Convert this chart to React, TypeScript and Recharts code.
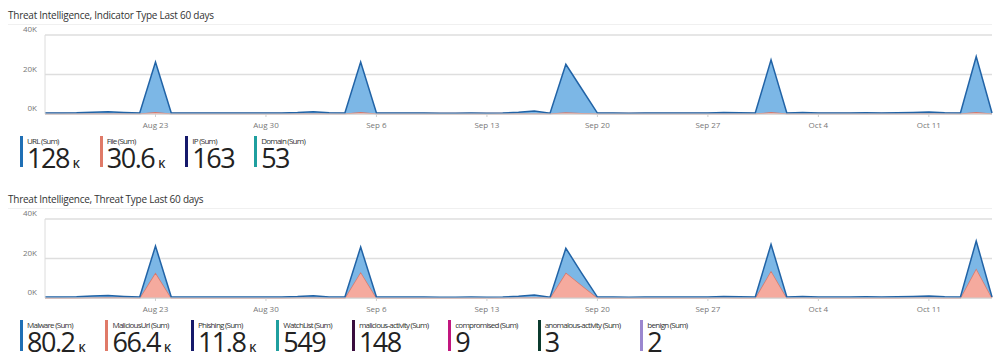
import { AreaChart, Area, XAxis, YAxis, CartesianGrid } from "recharts";

// one point per day, Aug 16 -> Oct 15
const days = [
  "Aug 16", "Aug 17", "Aug 18", "Aug 19", "Aug 20", "Aug 21", "Aug 22", "Aug 23", "Aug 24", "Aug 25",
  "Aug 26", "Aug 27", "Aug 28", "Aug 29", "Aug 30", "Aug 31", "Sep 1", "Sep 2", "Sep 3", "Sep 4",
  "Sep 5", "Sep 6", "Sep 7", "Sep 8", "Sep 9", "Sep 10", "Sep 11", "Sep 12", "Sep 13", "Sep 14",
  "Sep 15", "Sep 16", "Sep 17", "Sep 18", "Sep 19", "Sep 20", "Sep 21", "Sep 22", "Sep 23", "Sep 24",
  "Sep 25", "Sep 26", "Sep 27", "Sep 28", "Sep 29", "Sep 30", "Oct 1", "Oct 2", "Oct 3", "Oct 4",
  "Oct 5", "Oct 6", "Oct 7", "Oct 8", "Oct 9", "Oct 10", "Oct 11", "Oct 12", "Oct 13", "Oct 14",
  "Oct 15",
];

const xTicks = ["Aug 23", "Aug 30", "Sep 6", "Sep 13", "Sep 20", "Sep 27", "Oct 4", "Oct 11"];
const yTicks = [0, 20000, 40000];

// Indicator type chart
const urlValues = [
  300, 350, 400, 700, 1000, 600, 300, 25300, 300, 250,
  250, 300, 250, 250, 300, 350, 500, 900, 400, 300,
  25300, 300, 350, 250, 250, 200, 200, 250, 200, 300,
  700, 1300, 200, 24300, 12300, 250, 250, 200, 300, 350,
  300, 250, 250, 600, 400, 300, 26400, 300, 500, 350,
  300, 350, 400, 350, 400, 600, 800, 400, 300, 28100,
  300,
];
const fileValues = [
  200, 200, 200, 200, 200, 200, 200, 1000, 200, 200,
  200, 200, 200, 200, 200, 200, 200, 200, 200, 200,
  1000, 200, 200, 200, 200, 200, 200, 200, 200, 200,
  200, 200, 200, 900, 500, 200, 200, 200, 200, 200,
  200, 200, 200, 200, 200, 200, 1000, 200, 200, 200,
  200, 200, 200, 200, 200, 200, 200, 200, 200, 1000,
  200,
];

// Threat type chart
const maliciousUrlValues = [
  150, 150, 150, 250, 350, 200, 150, 12900, 150, 150,
  150, 150, 150, 150, 150, 150, 200, 300, 150, 150,
  13200, 150, 150, 150, 150, 150, 150, 150, 150, 150,
  250, 400, 150, 12900, 6500, 150, 150, 150, 150, 150,
  150, 150, 150, 200, 150, 150, 13800, 150, 200, 150,
  150, 150, 150, 150, 150, 200, 300, 150, 150, 15000,
  150,
];
const malwareValues = [
  350, 400, 450, 700, 900, 600, 350, 13400, 350, 300,
  300, 350, 300, 300, 350, 400, 500, 800, 400, 350,
  12600, 350, 400, 300, 300, 250, 250, 300, 250, 350,
  650, 1100, 250, 12300, 6100, 300, 300, 250, 350, 400,
  350, 300, 300, 600, 450, 350, 13400, 350, 500, 400,
  350, 400, 450, 400, 450, 600, 750, 450, 350, 13900,
  350,
];

const indicatorLegend = [
  { label: "URL (Sum)", value: "128", unit: "K", color: "#1f6fb5" },
  { label: "File (Sum)", value: "30.6", unit: "K", color: "#e07a68" },
  { label: "IP (Sum)", value: "163", unit: "", color: "#15196b" },
  { label: "Domain (Sum)", value: "53", unit: "", color: "#1f9f9f" },
];

const threatLegend = [
  { label: "Malware (Sum)", value: "80.2", unit: "K", color: "#1f6fb5" },
  { label: "MaliciousUrl (Sum)", value: "66.4", unit: "K", color: "#e07a68" },
  { label: "Phishing (Sum)", value: "11.8", unit: "K", color: "#15196b" },
  { label: "WatchList (Sum)", value: "549", unit: "", color: "#1f9f9f" },
  { label: "malicious-activity (Sum)", value: "148", unit: "", color: "#3a0d3e" },
  { label: "compromised (Sum)", value: "9", unit: "", color: "#c2177f" },
  { label: "anomalous-activity (Sum)", value: "3", unit: "", color: "#0b3b2e" },
  { label: "benign (Sum)", value: "2", unit: "", color: "#9b87cf" },
];

const indicatorData = days.map((day, i) => ({ day, file: fileValues[i], url: urlValues[i] }));
const threatData = days.map((day, i) => ({
  day,
  maliciousUrl: maliciousUrlValues[i],
  malware: malwareValues[i],
}));

const FONT = "'Segoe UI', 'Open Sans', sans-serif";
const BLUE_FILL = "#7cb7e6";
const BLUE_LINE = "#2163a6";
const RED_FILL = "#f5aa9e";
const RED_LINE = "#d9786a";

const YTick = (props: any) => {
  const { x, y, payload } = props;
  return (
    <text x={x} y={y - 3} textAnchor="end" fontSize={8} fill="#777" fontFamily={FONT}>
      {payload.value / 1000}K
    </text>
  );
};

const Legend = ({ items }: { items: typeof threatLegend }) => (
  <div style={{ display: "flex" }}>
    {items.map((it) => (
      <div key={it.label} style={{ display: "flex", marginRight: 20 }}>
        <div style={{ width: 3, height: 31, background: it.color }} />
        <div style={{ marginLeft: 4 }}>
          <div
            style={{
              fontSize: 8,
              lineHeight: "9px",
              letterSpacing: -0.75,
              color: "#333",
              whiteSpace: "nowrap",
            }}
          >
            {it.label}
          </div>
          <div
            style={{
              fontSize: 27,
              lineHeight: "24px",
              marginTop: 1,
              color: "#222",
              letterSpacing: -1.5,
              whiteSpace: "nowrap",
            }}
          >
            {it.value}
            {it.unit && (
              <span style={{ fontSize: 11, fontWeight: 600, marginLeft: 4, letterSpacing: 0 }}>
                {it.unit}
              </span>
            )}
          </div>
        </div>
      </div>
    ))}
  </div>
);

const Panel = ({
  top,
  title,
  data,
  series,
  legend,
}: {
  top: number;
  title: string;
  data: any[];
  series: { key: string; fill: string; stroke: string }[];
  legend: typeof threatLegend;
}) => (
  <div style={{ position: "absolute", left: 0, top, width: 999, height: 180 }}>
    <div
      style={{
        position: "absolute",
        left: 8,
        top: 8,
        fontSize: 10,
        letterSpacing: -0.25,
        color: "#333",
        whiteSpace: "nowrap",
      }}
    >
      {title}
    </div>
    <div style={{ position: "absolute", left: 8, top: 24, width: 984, borderTop: "1px solid #f0f0f0" }} />
    <div style={{ position: "absolute", left: 0, top: 0 }}>
      <AreaChart width={999} height={135} data={data} margin={{ top: 35, right: 7, bottom: 0, left: 0 }}>
        <CartesianGrid vertical={false} stroke="#dedede" strokeWidth={1.5} />
        <XAxis
          dataKey="day"
          ticks={xTicks}
          interval={0}
          height={21}
          tickSize={3}
          tickMargin={5}
          stroke="#cfcfcf"
          tick={{ fontSize: 8, fill: "#777", fontFamily: FONT }}
        />
        <YAxis
          width={45}
          domain={[0, 40000]}
          ticks={yTicks}
          tickLine={false}
          stroke="#dcdcdc"
          tick={<YTick />}
        />
        {series.map((s) => (
          <Area
            key={s.key}
            type="linear"
            dataKey={s.key}
            stackId="1"
            fill={s.fill}
            fillOpacity={1}
            stroke={s.stroke}
            strokeWidth={1.5}
            dot={false}
            activeDot={false}
            isAnimationActive={false}
          />
        ))}
      </AreaChart>
    </div>
    <div style={{ position: "absolute", left: 20, top: 136 }}>
      <Legend items={legend} />
    </div>
  </div>
);

export default function App() {
  return (
    <div
      style={{
        position: "absolute",
        left: 0,
        top: 0,
        width: 999,
        height: 361,
        background: "#fff",
        fontFamily: FONT,
        overflow: "hidden",
      }}
    >
      <Panel
        top={0}
        title="Threat Intelligence, Indicator Type Last 60 days"
        data={indicatorData}
        series={[
          { key: "file", fill: RED_FILL, stroke: RED_LINE },
          { key: "url", fill: BLUE_FILL, stroke: BLUE_LINE },
        ]}
        legend={indicatorLegend}
      />
      <Panel
        top={184}
        title="Threat Intelligence, Threat Type Last 60 days"
        data={threatData}
        series={[
          { key: "maliciousUrl", fill: RED_FILL, stroke: RED_LINE },
          { key: "malware", fill: BLUE_FILL, stroke: BLUE_LINE },
        ]}
        legend={threatLegend}
      />
    </div>
  );
}
